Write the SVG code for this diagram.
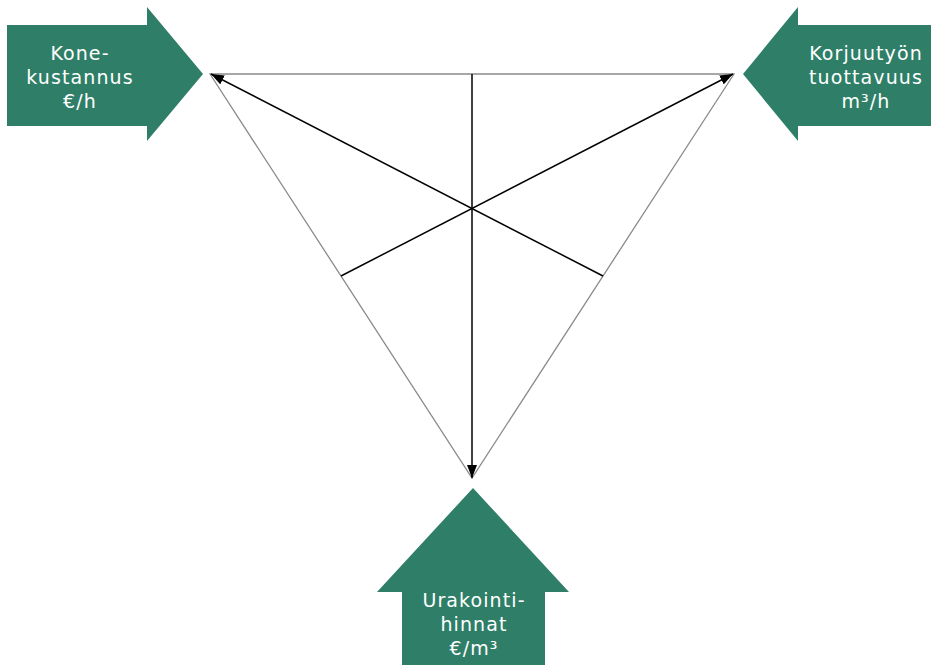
<svg xmlns="http://www.w3.org/2000/svg" width="931" height="665" viewBox="0 0 931 665">
  <style>
    .block { fill: #2f7f68; }
    .label { fill: #ffffff; font-family: "DejaVu Sans", "Liberation Sans", sans-serif; font-size: 19px; letter-spacing: 1.1px; text-anchor: middle; }
    .edge { stroke: #8a8a8a; stroke-width: 1.3; fill: none; }
    .median { stroke: #000000; stroke-width: 1.5; fill: none; }
  </style>
  <defs>
    <marker id="head" viewBox="0 0 13 10" refX="13" refY="5" markerWidth="13" markerHeight="10" markerUnits="userSpaceOnUse" orient="auto">
      <path d="M0,0 L13,5 L0,10 Z" fill="#000000"/>
    </marker>
  </defs>

  <rect width="931" height="665" fill="#ffffff"/>

  <!-- triangle and medians -->
  <g id="connectors">
    <polygon class="edge" points="210,74 734,74 472,478"/>
    <line class="median" x1="603" y1="276" x2="211" y2="74" marker-end="url(#head)"/>
    <line class="median" x1="341" y1="276" x2="733" y2="74" marker-end="url(#head)"/>
    <line class="median" x1="472" y1="74" x2="472" y2="478" marker-end="url(#head)"/>
  </g>

  <!-- left arrow: machine cost -->
  <g id="node-konekustannus">
    <polygon class="block" points="7,25 147,25 147,7 203,74 147,141 147,126 7,126"/>
    <text class="label" x="80" y="60">Kone-</text>
    <text class="label" x="80" y="84">kustannus</text>
    <text class="label" x="80" y="108">€/h</text>
  </g>

  <!-- right arrow: harvesting productivity -->
  <g id="node-tuottavuus">
    <polygon class="block" points="931,25 798,25 798,7 743,74 798,141 798,126 931,126"/>
    <text class="label" x="866" y="60">Korjuutyön</text>
    <text class="label" x="866" y="84">tuottavuus</text>
    <text class="label" x="866" y="108">m³/h</text>
  </g>

  <!-- bottom arrow: contract prices -->
  <g id="node-urakointihinnat">
    <polygon class="block" points="473,488 569,592 545,592 545,665 402,665 402,592 377,592"/>
    <text class="label" x="474" y="607">Urakointi-</text>
    <text class="label" x="474" y="631">hinnat</text>
    <text class="label" x="474" y="655">€/m³</text>
  </g>
</svg>
